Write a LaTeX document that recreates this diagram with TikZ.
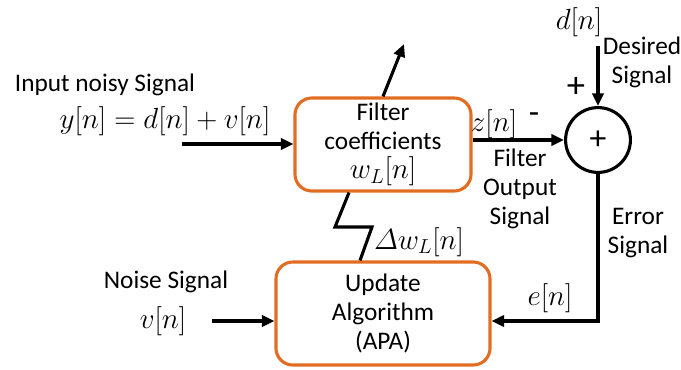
\documentclass[tikz,border=0pt]{standalone}
\usepackage{amsmath}
\usepackage{fontspec}
\setmainfont{Carlito}
\usepackage[RGB]{xcolor}
\usetikzlibrary{arrows.meta,calc}
\definecolor{boxorange}{RGB}{226,108,34}
\newcommand{\drawthick}{\draw[line width=2.2pt]}
\newcommand{\drawarrow}{\draw[line width=2.2pt,-{Triangle[length=9pt,width=8pt]}]}
\newcommand{\bigmath}[1]{{\fontsize{20.5}{20.6}\selectfont$#1$}}
\tikzset{
  blockbox/.style={draw=boxorange,line width=2.2pt,rounded corners=12pt,align=center,inner sep=0pt},
  sumnode/.style={draw,circle,line width=2.2pt,minimum size=1.62cm,inner sep=0pt,font=\fontsize{24}{24}\selectfont},
  lbl/.style={inner sep=1pt,align=center}
}

\begin{document}
\begin{tikzpicture}[x=0.025cm,y=-0.025cm,font=\fontsize{18}{20.6}\selectfont]
\useasboundingbox (0,0) rectangle (681,369);
\node[blockbox,minimum width=4.4cm,minimum height=2.325cm] (filter) at (383,144.5) {Filter\\coefficients\\\bigmath{w_L[n]}};
\node[blockbox,minimum width=5.35cm,minimum height=2.575cm] (update) at (383,313.5) {Update\\Algorithm\\(APA)};
\node[sumnode] (sum) at (598,140) {+};
\node[lbl] (dn) at (579,22) {\bigmath{d[n]}};
\node[lbl] (desired) at (642,62) {Desired\\Signal};
\node[lbl,font=\fontsize{26}{26}\selectfont] (plus) at (576,87) {+};
\node[lbl] (zn) at (494,124) {\bigmath{z[n]}};
\node[lbl,font=\fontsize{24}{24}\selectfont] (minus) at (534,118) {-};
\node[lbl] (fout) at (520,189) {Filter\\Output\\Signal};
\node[lbl] (errsig) at (638,233) {Error\\Signal};
\node[lbl] (en) at (550,298) {\bigmath{e[n]}};
\node[lbl] (dwl) at (419,242) {\bigmath{\varDelta w_L[n]}};
\node[lbl] (intxt) at (105,85) {Input noisy Signal};
\node[lbl] (yn) at (165,121) {\bigmath{y[n]=d[n]+v[n]}};
\node[lbl] (noisetxt) at (166,282) {Noise Signal};
\node[lbl] (vn) at (163,321) {\bigmath{v[n]}};
\coordinate (yin) at (182,144);
\coordinate (vin) at (212,321);
\coordinate (dtop) at (598,46);
\coordinate (wout) at (404,44);
\coordinate (zz1) at (335,227);
\coordinate (zz2) at (372,227);
\drawarrow (yin) -- (yin -| filter.west);
\drawarrow (filter.east |- sum.west) -- (sum.west);
\drawarrow (dtop) -- (sum.north);
\drawarrow (sum.south) |- ($(update.east)+(0,7.5)$);
\drawarrow (vin) -- (vin -| update.west);
\drawarrow (filter.north) -- (wout);
\drawthick ($(filter.south)+(-34,0)$) -- (zz1) -- (zz2) -- ($(update.north)+(-23,0)$);
\end{tikzpicture}
\end{document}
